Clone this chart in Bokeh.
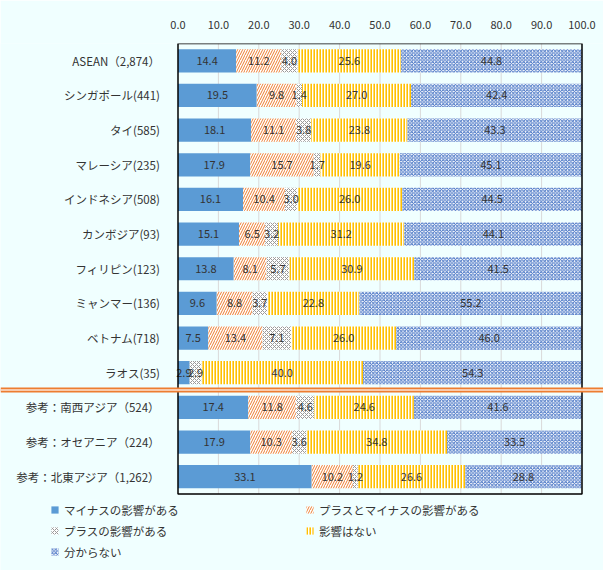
from bokeh.plotting import figure
from bokeh.models import (ColumnDataSource, Legend, LegendItem, Label, Span, BoxAnnotation,
                          NumeralTickFormatter, FixedTicker, Range1d)
from bokeh.core.properties import value
from bokeh.embed import file_html
from bokeh.resources import INLINE
import numpy as np

categories = ["ASEAN（2,874）", "シンガポール(441)", "タイ(585)", "マレーシア(235)", "インドネシア(508)",
              "カンボジア(93)", "フィリピン(123)", "ミャンマー(136)", "ベトナム(718)", "ラオス(35)",
              "参考：南西アジア（524）", "参考：オセアニア（224）", "参考：北東アジア（1,262）"]
minus_effect = [14.4, 19.5, 18.1, 17.9, 16.1, 15.1, 13.8, 9.6, 7.5, 2.9, 17.4, 17.9, 33.1]
plus_and_minus = [11.2, 9.8, 11.1, 15.7, 10.4, 6.5, 8.1, 8.8, 13.4, 0.0, 11.8, 10.3, 10.2]
plus_effect = [4.0, 1.4, 3.8, 1.7, 3.0, 3.2, 5.7, 3.7, 7.1, 2.9, 4.6, 3.6, 1.2]
no_effect = [25.6, 27.0, 23.8, 19.6, 26.0, 31.2, 30.9, 22.8, 26.0, 40.0, 24.6, 34.8, 26.6]
unknown = [44.8, 42.4, 43.3, 45.1, 44.5, 44.1, 41.5, 55.2, 46.0, 54.3, 41.6, 33.5, 28.8]
series_names = ["マイナスの影響がある", "プラスとマイナスの影響がある", "プラスの影響がある", "影響はない", "分からない"]
x_ticks = [0, 10, 20, 30, 40, 50, 60, 70, 80, 90, 100]
unit_label = "（%）"
n_asean_rows = 10

FONT = "Noto Sans CJK JP"
BG = "#F0FFFF"
TXT = "#333333"

# pixel geometry of the plotting box
W, H = 603, 570
BOX_L, BOX_R, BOX_T, BOX_B = 177.5, 581.5, 43.0, 493.5
n = len(categories)
xpx = (BOX_R - BOX_L) / 100.0
ypx = (BOX_B - BOX_T) / n
x_start = -BOX_L / xpx
x_end = 100 + (W - BOX_R) / xpx
y_start = -(H - BOX_B) / ypx

series = [minus_effect, plus_and_minus, plus_effect, no_effect, unknown]
styles = [
    dict(fill_color="#5B9BD5"),
    dict(fill_color="white", hatch_pattern="right_diagonal_line", hatch_color="#ED7D31", hatch_scale=5, hatch_weight=1),
    dict(fill_color="white", hatch_pattern="diagonal_cross", hatch_color="#999999", hatch_scale=4, hatch_weight=1),
    dict(fill_color="white", hatch_pattern="vertical_line", hatch_color="#FFC000", hatch_scale=3, hatch_weight=2.2),
    dict(fill_color="white", hatch_pattern="diagonal_cross", hatch_color="#4472C4", hatch_scale=3.5, hatch_weight=1.0),
]

p = figure(width=W, height=H, x_range=Range1d(x_start, x_end), y_range=Range1d(y_start, n),
           x_axis_location="above", output_backend="svg", toolbar_location=None,
           min_border_left=0, min_border_right=0, min_border_top=int(BOX_T), min_border_bottom=0,
           background_fill_color=BG, border_fill_color=BG, outline_line_color=None)

ypos = [n - i - 0.5 for i in range(n)]

# vertical grid lines inside the plotting box
grid_x = [t for t in x_ticks if 0 < t < 100]
p.segment(x0=grid_x, y0=[0] * len(grid_x), x1=grid_x, y1=[n] * len(grid_x),
          line_color="#D9D9D9", line_width=1)

left = np.zeros(n)
items = []
lbl_x, lbl_y, lbl_t = [], [], []
for name, vals, st in zip(series_names, series, styles):
    vals = np.array(vals, dtype=float)
    right = left + vals
    src = ColumnDataSource(dict(y=ypos, left=left.copy(), right=right.copy()))
    r = p.hbar(y="y", left="left", right="right", height=0.67, source=src, line_color=None, **st)
    items.append(LegendItem(label=name, renderers=[r]))
    for yy, l, v in zip(ypos, left, vals):
        if v > 0:
            lbl_x.append(l + v / 2)
            lbl_y.append(yy)
            lbl_t.append(f"{v:.1f}")
    left = right

p.text(x="x", y="y", text="t", source=ColumnDataSource(dict(x=lbl_x, y=lbl_y, t=lbl_t)),
       text_font=value(FONT), text_font_size="11px", text_color=TXT,
       text_align="center", text_baseline="middle")

# category labels
p.text(x=[-18 / xpx] * n, y=ypos, text=categories, text_font=value(FONT), text_font_size="11.5px",
       text_color="#333333", text_align="right", text_baseline="middle")

# plotting box outline
p.add_layout(BoxAnnotation(left=0, right=100, bottom=0, top=n, fill_alpha=0,
                           line_color="black", line_width=1.5, line_alpha=1))

# separator double line between ASEAN countries and reference regions
sep_y = n - n_asean_rows
p.add_layout(Span(location=sep_y, dimension="width", line_color="#ED7D31", line_width=5))
p.add_layout(Span(location=sep_y, dimension="width", line_color="#FBE5D6", line_width=1.5))

# axes
p.xaxis.ticker = FixedTicker(ticks=x_ticks)
p.xaxis.formatter = NumeralTickFormatter(format="0.0")
p.xaxis.major_label_text_font = FONT
p.xaxis.major_label_text_font_size = "11px"
p.xaxis.major_label_text_color = TXT
p.xaxis.axis_line_color = None
p.xaxis.major_tick_line_color = None
p.xaxis.minor_tick_line_color = None
p.xaxis.major_label_standoff = 9
p.yaxis.visible = False
p.xgrid.grid_line_color = None
p.ygrid.grid_line_color = None

p.add_layout(Label(x=98.6, y=n + 0.87, text=unit_label, text_font=FONT, text_font_size="11px",
                   text_color=TXT, text_align="center", text_baseline="middle"))

legend = Legend(items=items, location=(50, 8), orientation="horizontal", ncols=2,
                glyph_width=9, glyph_height=9, label_height=21, label_width=241, spacing=0,
                label_standoff=5, padding=0, margin=0, background_fill_alpha=0,
                border_line_color=None, label_text_font=FONT, label_text_font_size="11.5px",
                label_text_color=TXT)
p.add_layout(legend)

open("out.html", "w").write(file_html(p, INLINE))
